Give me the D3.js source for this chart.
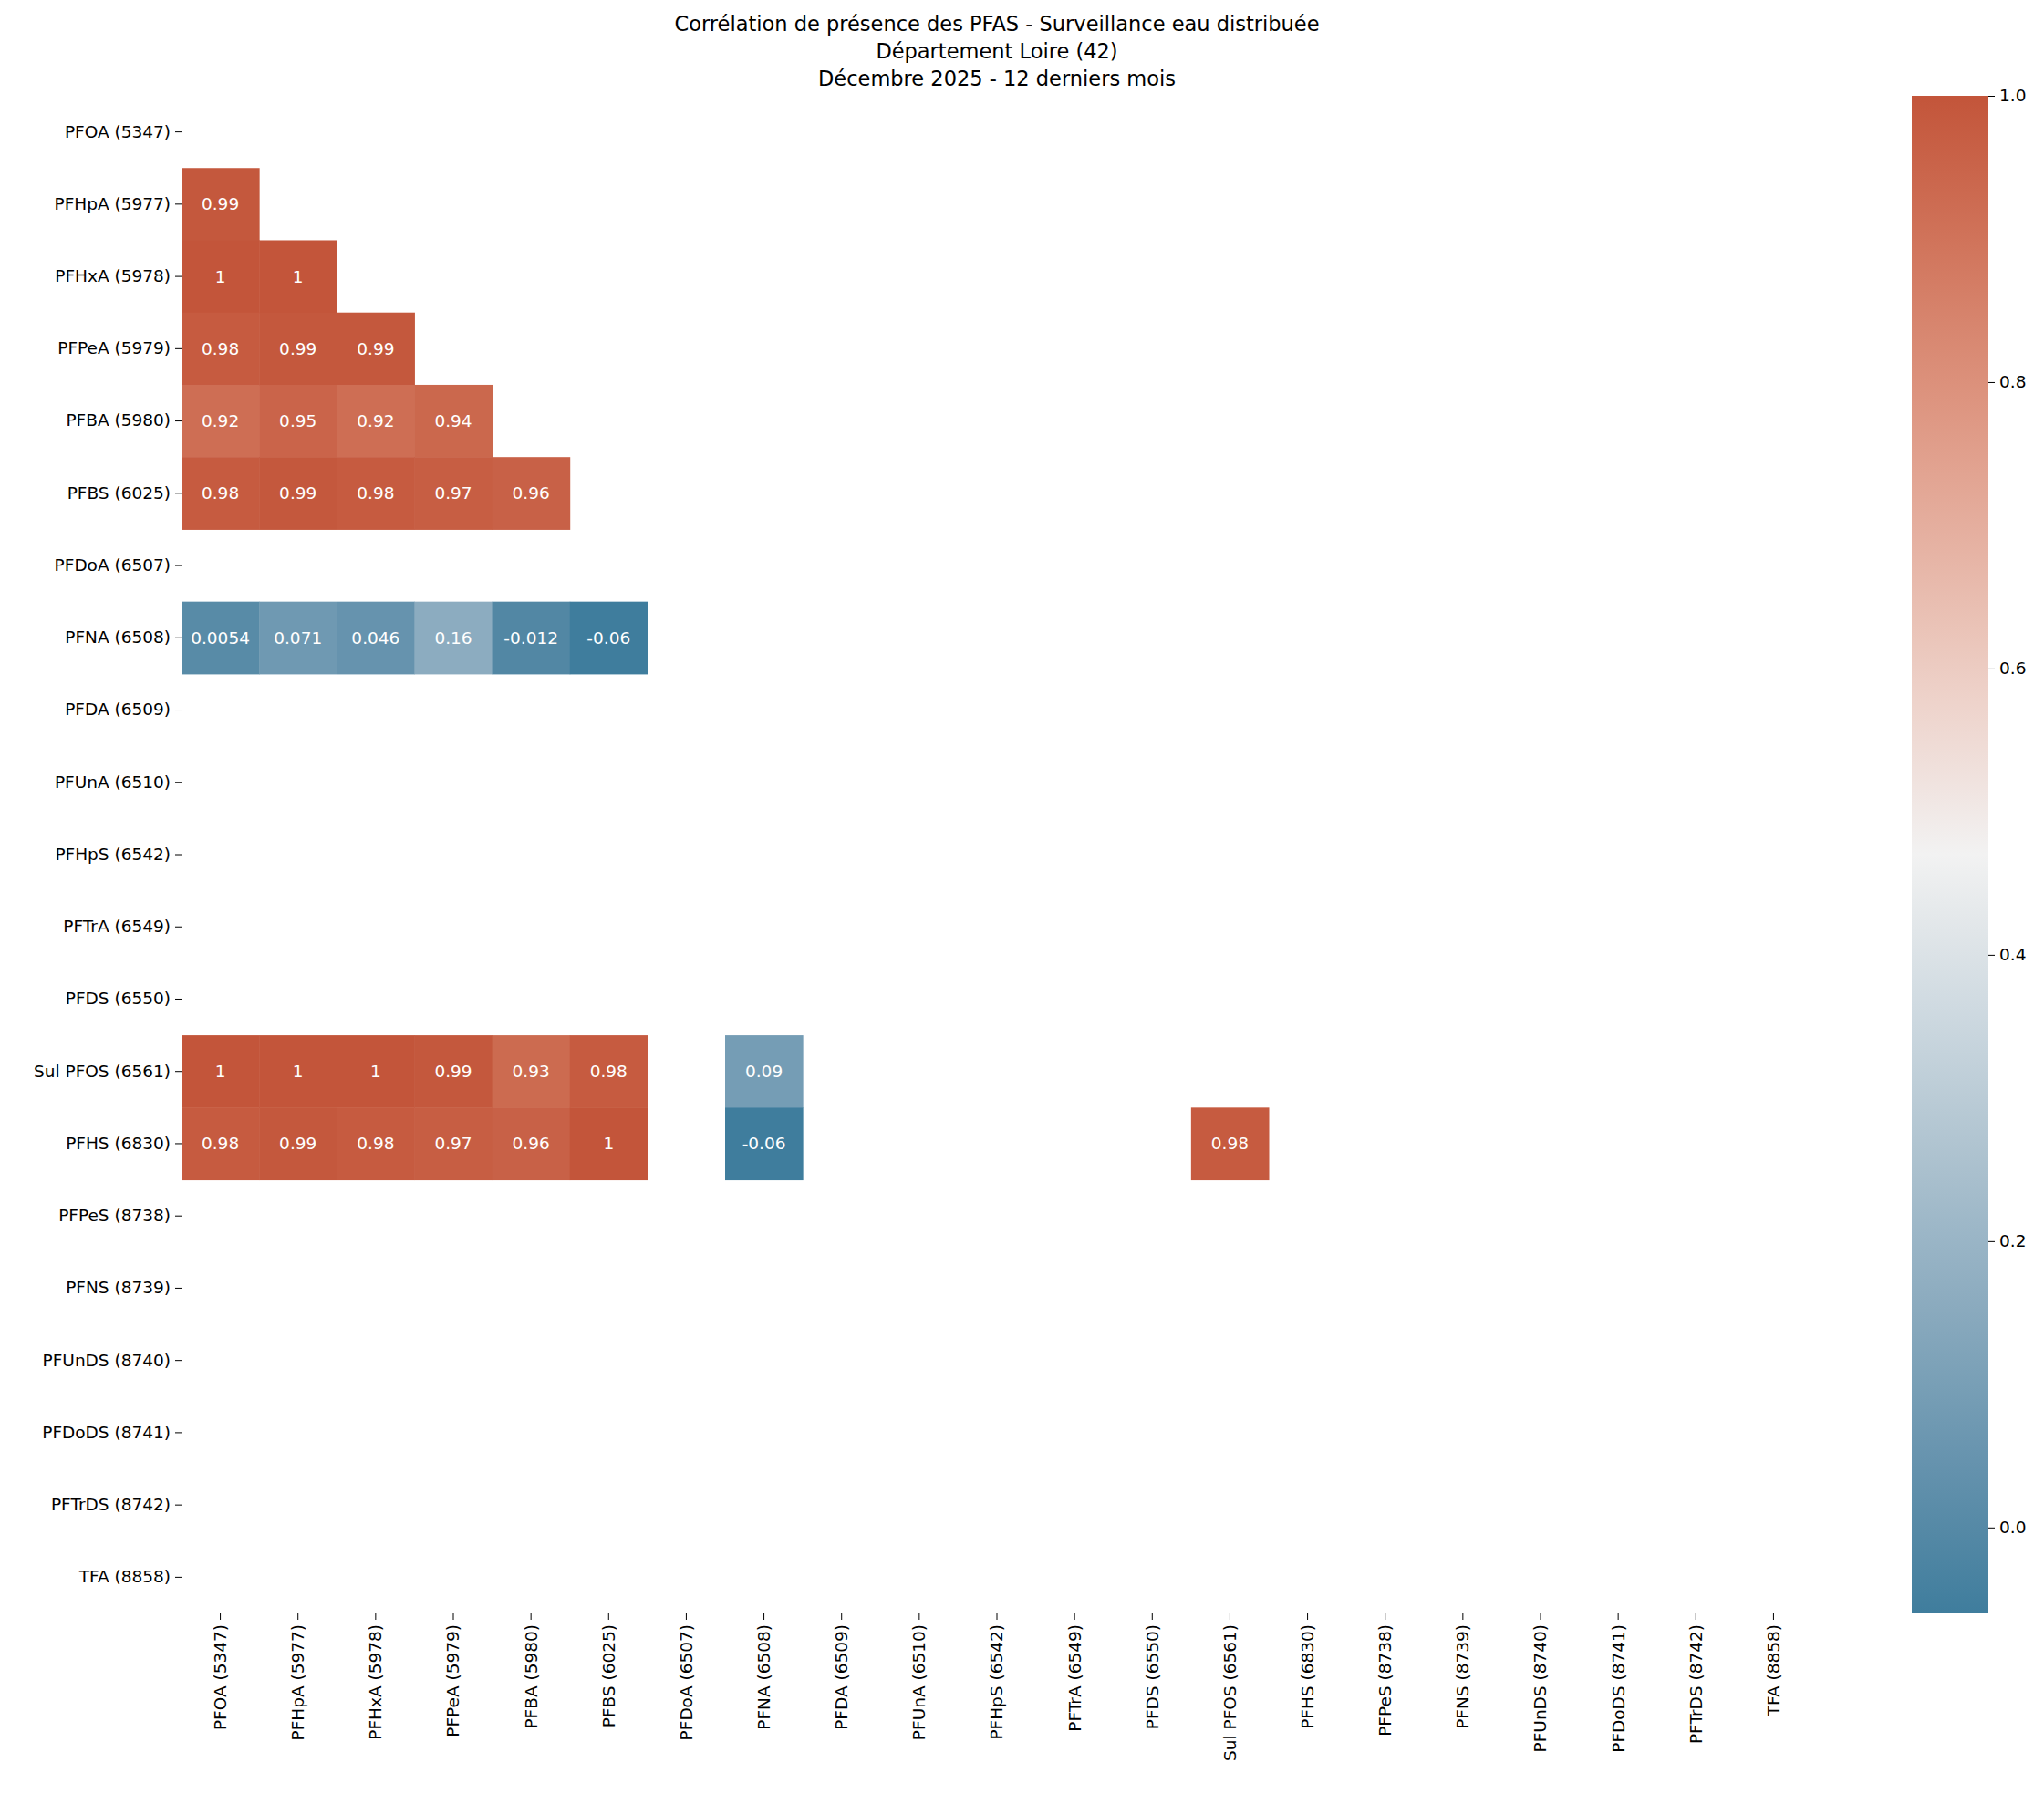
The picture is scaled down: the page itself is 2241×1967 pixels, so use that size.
<!DOCTYPE html><html><head><meta charset="utf-8"><script src="https://cdn.jsdelivr.net/npm/d3@7"></script>
<style>body{margin:0;background:#fff}text{font-family:"DejaVu Sans",sans-serif}</style></head><body>
<svg id="c" width="2241" height="1967"></svg>
<script>
const labels=["PFOA (5347)","PFHpA (5977)","PFHxA (5978)","PFPeA (5979)","PFBA (5980)","PFBS (6025)","PFDoA (6507)","PFNA (6508)","PFDA (6509)","PFUnA (6510)","PFHpS (6542)","PFTrA (6549)","PFDS (6550)","Sul PFOS (6561)","PFHS (6830)","PFPeS (8738)","PFNS (8739)","PFUnDS (8740)","PFDoDS (8741)","PFTrDS (8742)","TFA (8858)"];
// row label, column label, value, annotation
const cells=[
["PFHpA (5977)","PFOA (5347)",0.99,"0.99"],
["PFHxA (5978)","PFOA (5347)",1.0,"1"],["PFHxA (5978)","PFHpA (5977)",1.0,"1"],
["PFPeA (5979)","PFOA (5347)",0.98,"0.98"],["PFPeA (5979)","PFHpA (5977)",0.99,"0.99"],["PFPeA (5979)","PFHxA (5978)",0.99,"0.99"],
["PFBA (5980)","PFOA (5347)",0.92,"0.92"],["PFBA (5980)","PFHpA (5977)",0.95,"0.95"],["PFBA (5980)","PFHxA (5978)",0.92,"0.92"],["PFBA (5980)","PFPeA (5979)",0.94,"0.94"],
["PFBS (6025)","PFOA (5347)",0.98,"0.98"],["PFBS (6025)","PFHpA (5977)",0.99,"0.99"],["PFBS (6025)","PFHxA (5978)",0.98,"0.98"],["PFBS (6025)","PFPeA (5979)",0.97,"0.97"],["PFBS (6025)","PFBA (5980)",0.96,"0.96"],
["PFNA (6508)","PFOA (5347)",0.0054,"0.0054"],["PFNA (6508)","PFHpA (5977)",0.071,"0.071"],["PFNA (6508)","PFHxA (5978)",0.046,"0.046"],["PFNA (6508)","PFPeA (5979)",0.16,"0.16"],["PFNA (6508)","PFBA (5980)",-0.012,"-0.012"],["PFNA (6508)","PFBS (6025)",-0.06,"-0.06"],
["Sul PFOS (6561)","PFOA (5347)",1.0,"1"],["Sul PFOS (6561)","PFHpA (5977)",1.0,"1"],["Sul PFOS (6561)","PFHxA (5978)",1.0,"1"],["Sul PFOS (6561)","PFPeA (5979)",0.99,"0.99"],["Sul PFOS (6561)","PFBA (5980)",0.93,"0.93"],["Sul PFOS (6561)","PFBS (6025)",0.98,"0.98"],["Sul PFOS (6561)","PFNA (6508)",0.09,"0.09"],
["PFHS (6830)","PFOA (5347)",0.98,"0.98"],["PFHS (6830)","PFHpA (5977)",0.99,"0.99"],["PFHS (6830)","PFHxA (5978)",0.98,"0.98"],["PFHS (6830)","PFPeA (5979)",0.97,"0.97"],["PFHS (6830)","PFBA (5980)",0.96,"0.96"],["PFHS (6830)","PFBS (6025)",1.0,"1"],["PFHS (6830)","PFNA (6508)",-0.06,"-0.06"],["PFHS (6830)","Sul PFOS (6561)",0.98,"0.98"]
];
const titleLines=["Corrélation de présence des PFAS - Surveillance eau distribuée","Département Loire (42)","Décembre 2025 - 12 derniers mois"];
const cbTicks=[0.0,0.2,0.4,0.6,0.8,1.0];
const vmin=-0.06,vmax=1.0;

const svg=d3.select("#c");
const L=199,R=1987,T=105,B=1769;
const x=d3.scaleBand().domain(labels).range([L,R]);
const y=d3.scaleBand().domain(labels).range([T,B]);
const mid=(vmin+vmax)/2;
const color=d3.scaleLinear().domain([vmin,mid,vmax]).range(["#3f7d9d","#f2f2f2","#c3553a"]).interpolate(d3.interpolateLab);

svg.append("g").selectAll("rect").data(cells).join("rect")
 .attr("x",d=>x(d[1])).attr("y",d=>y(d[0])).attr("width",x.bandwidth()+0.5).attr("height",y.bandwidth()+0.5)
 .attr("fill",d=>color(d[2]));
svg.append("g").selectAll("text").data(cells).join("text")
 .attr("x",d=>x(d[1])+x.bandwidth()/2).attr("y",d=>y(d[0])+y.bandwidth()/2)
 .attr("text-anchor","middle").attr("dominant-baseline","central").attr("font-size",18.5).attr("fill","#fff").text(d=>d[3]);

const ya=svg.append("g").attr("transform",`translate(${L},0)`).call(d3.axisLeft(y).tickSize(7).tickPadding(5));
ya.select(".domain").remove();
ya.selectAll("text").attr("font-size",18.5).attr("font-family","DejaVu Sans");
const xa=svg.append("g").attr("transform",`translate(0,${B})`).call(d3.axisBottom(x).tickSize(7).tickPadding(5));
xa.select(".domain").remove();
xa.selectAll("text").attr("font-size",18.5).attr("font-family","DejaVu Sans")
 .attr("transform","rotate(-90)").attr("text-anchor","end").attr("dx","-12").attr("x",0).attr("y",0).attr("dy","0.35em");

svg.append("g").selectAll("text").data(titleLines).join("text")
 .attr("x",(L+R)/2).attr("y",(d,i)=>34+i*30).attr("text-anchor","middle").attr("font-size",22.5).text(d=>d);

// colorbar
const cbx=2096,cbw=84;
const cy=d3.scaleLinear().domain([vmin,vmax]).range([B,T]);
const defs=svg.append("defs");
const g=defs.append("linearGradient").attr("id","cg").attr("x1",0).attr("y1",1).attr("x2",0).attr("y2",0);
d3.range(0,1.0001,0.05).forEach(t=>g.append("stop").attr("offset",t).attr("stop-color",color(vmin+t*(vmax-vmin))));
svg.append("rect").attr("x",cbx).attr("y",T).attr("width",cbw).attr("height",B-T).attr("fill","url(#cg)");
const ca=svg.append("g").attr("transform",`translate(${cbx+cbw},0)`).call(d3.axisRight(cy).tickValues(cbTicks).tickFormat(d3.format(".1f")).tickSize(7).tickPadding(5));
ca.select(".domain").remove();
ca.selectAll("text").attr("font-size",18.5).attr("font-family","DejaVu Sans");
</script></body></html>
